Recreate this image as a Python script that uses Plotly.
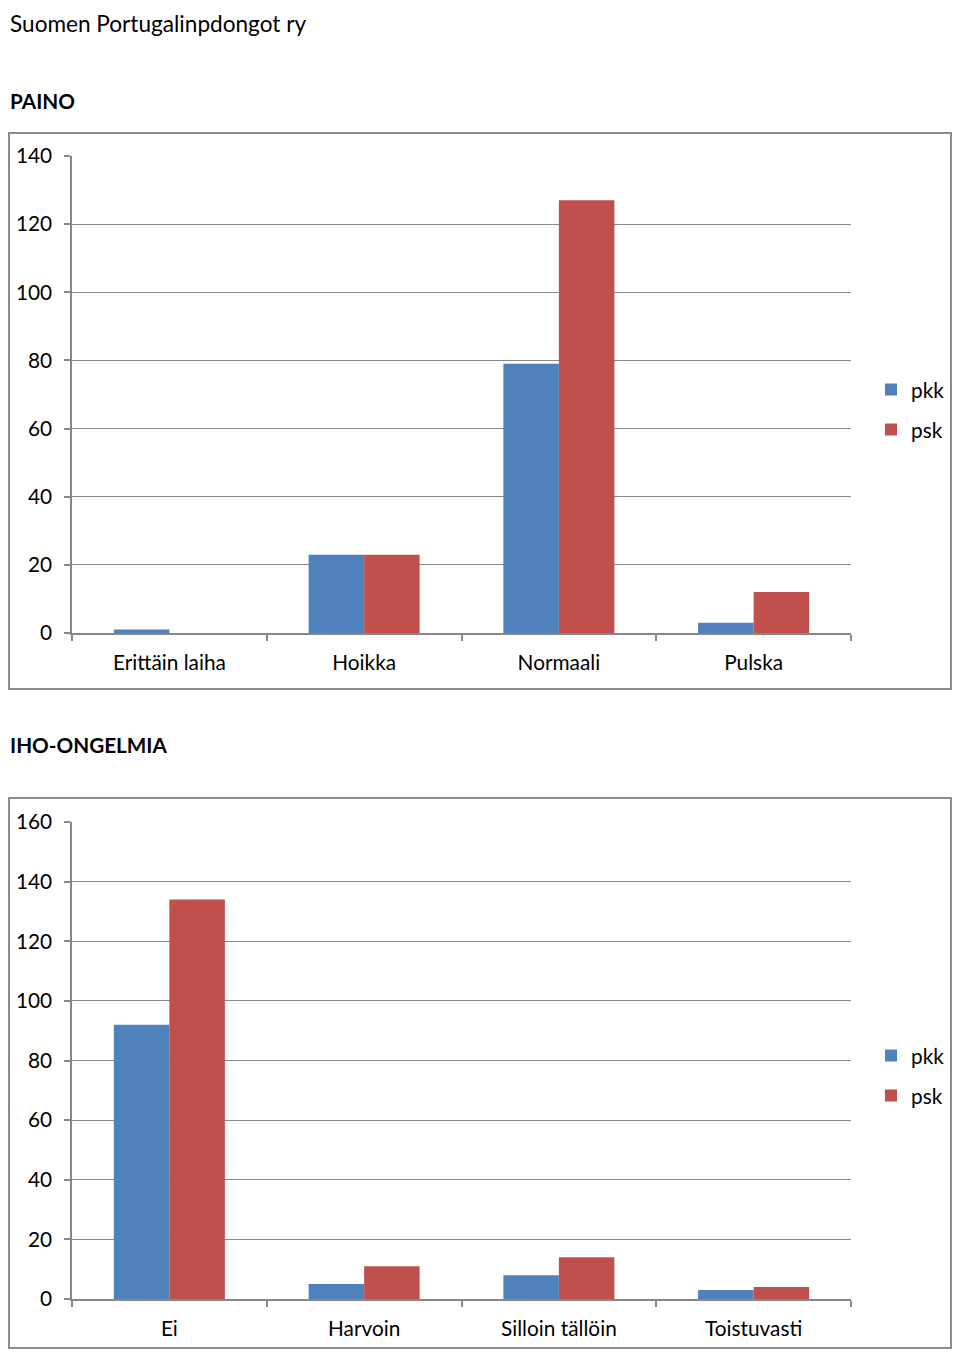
import plotly.graph_objects as go

# Page is 960x1357; body has an 8px default margin, so the figure is sized to fit exactly.
OFF = 8
W, H = 960 - 2 * OFF, 1357 - 2 * OFF

# Data
paino_categories = ["Erittäin laiha", "Hoikka", "Normaali", "Pulska"]
paino_pkk = [1, 23, 79, 3]
paino_psk = [0, 23, 127, 12]

iho_categories = ["Ei", "Harvoin", "Silloin tällöin", "Toistuvasti"]
iho_pkk = [92, 5, 8, 3]
iho_psk = [134, 11, 14, 4]

series_names = ["pkk", "psk"]
colors = ["#4F81BD", "#C0504D"]

FONT = "Lato, 'Open Sans', sans-serif"
GREY = "#8c8c8c"
GRID = "#878787"
TICKSIZE = 20.8


def px_x(px):
    return max(0.0, min(1.0, (px - OFF) / W))


def px_y(py):
    return max(0.0, min(1.0, 1 - (py - OFF) / H))


fig = go.Figure()

for i, (name, vals) in enumerate(zip(series_names, [paino_pkk, paino_psk])):
    fig.add_trace(go.Bar(x=paino_categories, y=vals, name=name, marker_color=colors[i],
                         marker_line_width=0, xaxis="x", yaxis="y", legend="legend",
                         legendgroup=name + "1"))
for i, (name, vals) in enumerate(zip(series_names, [iho_pkk, iho_psk])):
    fig.add_trace(go.Bar(x=iho_categories, y=vals, name=name, marker_color=colors[i],
                         marker_line_width=0, xaxis="x2", yaxis="y2", legend="legend2",
                         legendgroup=name + "2"))

xcommon = dict(showline=True, linecolor=GRID, linewidth=1.5, ticks="outside",
               tickson="boundaries", ticklen=6, tickcolor=GRID, tickwidth=1.5,
               showgrid=False, tickfont=dict(family=FONT, size=TICKSIZE, color="#000"),
               ticklabelstandoff=10, automargin=False, fixedrange=True)
ycommon = dict(showline=True, linecolor=GRID, linewidth=1.5, ticks="outside",
               ticklen=6, tickcolor=GRID, tickwidth=1.5, showgrid=True,
               gridcolor=GRID, gridwidth=1.3, zeroline=False, dtick=20,
               tickfont=dict(family=FONT, size=TICKSIZE, color="#000"),
               ticklabelstandoff=8, automargin=False, fixedrange=True)

legend_common = dict(xanchor="left", yanchor="middle", xref="container", yref="container",
                     font=dict(family=FONT, size=TICKSIZE, color="#000"),
                     traceorder="grouped", tracegroupgap=10, itemwidth=30,
                     bgcolor="rgba(0,0,0,0)")

fig.update_layout(
    width=W, height=H,
    margin=dict(l=0, r=0, t=0, b=0, autoexpand=False),
    paper_bgcolor="white", plot_bgcolor="white",
    barmode="group", bargap=0.43, bargroupgap=0,
    showlegend=True,
    xaxis=dict(domain=[px_x(72), px_x(851)], anchor="y", **xcommon),
    yaxis=dict(domain=[px_y(633), px_y(156)], anchor="x", range=[0, 140], **ycommon),
    xaxis2=dict(domain=[px_x(72), px_x(851)], anchor="y2", **xcommon),
    yaxis2=dict(domain=[px_y(1299), px_y(822)], anchor="x2", range=[0, 160], **ycommon),
    legend=dict(x=px_x(871), y=px_y(410), **legend_common),
    legend2=dict(x=px_x(871), y=px_y(1076), **legend_common),
    font=dict(family=FONT, color="#000"),
)

# Chart borders
for (y0, y1) in [(133, 689), (798, 1355)]:
    fig.add_shape(type="rect", xref="paper", yref="paper",
                  x0=px_x(9), x1=px_x(951), y0=px_y(min(y1, 1348)), y1=px_y(y0),
                  line=dict(color=GREY, width=2), fillcolor="rgba(0,0,0,0)", layer="below")

# Texts
fig.add_annotation(text="Suomen Portugalinpdongot ry", xref="paper", yref="paper",
                   x=px_x(8), y=1, xanchor="left", yanchor="top",
                   showarrow=False, font=dict(family=FONT, size=22.6, color="#000"))
for txt, y in [("<b>PAINO</b>", 101), ("<b>IHO-ONGELMIA</b>", 745)]:
    fig.add_annotation(text=txt, xref="paper", yref="paper",
                       x=px_x(8), y=px_y(y), xanchor="left", yanchor="middle",
                       showarrow=False, font=dict(family=FONT, size=20.7, color="#000"))

fig.write_html("out.html")
